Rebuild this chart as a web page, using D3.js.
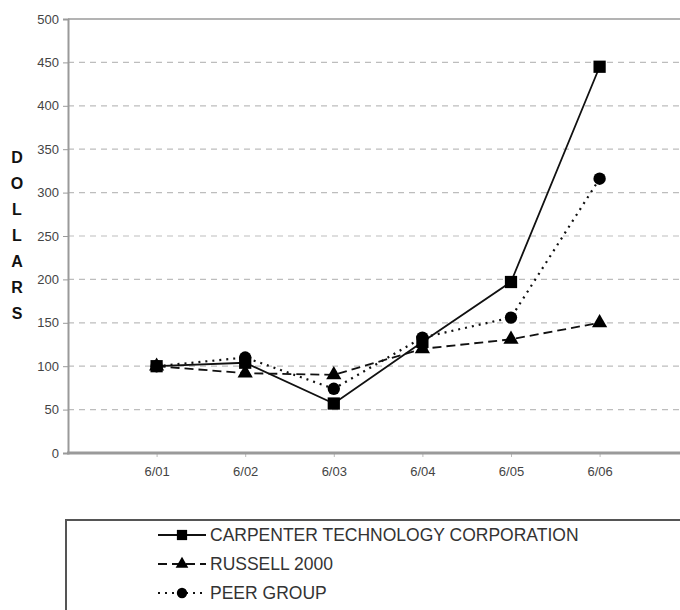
<!DOCTYPE html>
<html>
<head>
    <script type="text/javascript" src="https://cdn.jsdelivr.net/npm/d3@7/dist/d3.min.js"></script>
    <style>
        body { margin: 0; background: #fff; }
        text { font-family: "Liberation Sans", Arial, sans-serif; }
    </style>
</head>
<body>
    <div id="viz"></div>
    <script type="text/javascript">

    // data
    var periods = ["6/01", "6/02", "6/03", "6/04", "6/05", "6/06"];
    var carpenter = [100, 104, 57, 128, 197, 445];
    var russell = [100, 92, 90, 120, 131, 150];
    var peer = [100, 110, 74, 133, 156, 316];
    var yTicks = [0, 50, 100, 150, 200, 250, 300, 350, 400, 450, 500];
    var seriesNames = ["CARPENTER TECHNOLOGY CORPORATION", "RUSSELL 2000", "PEER GROUP"];
    var yLetters = ["D", "O", "L", "L", "A", "R", "S"];

    var W = 680, H = 610;
    var plotLeft = 68, plotTop = 19, plotBottom = 453;

    var svg = d3.select("#viz").append("svg")
        .attr("width", W)
        .attr("height", H);

    // one empty slot before and after the periods, plot runs off the right edge
    var x = d3.scalePoint()
        .domain(["_a"].concat(periods).concat(["_b"]))
        .range([plotLeft, plotLeft + 7 * 88.6]);

    var y = d3.scaleLinear()
        .domain([0, 500])
        .range([plotBottom, plotTop]);

    // grid lines
    svg.selectAll("line.grid")
        .data(yTicks.filter(function(d) { return d > 0 && d < 500; }))
        .enter().append("line")
        .attr("class", "grid")
        .attr("x1", plotLeft).attr("x2", W)
        .attr("y1", function(d) { return y(d); })
        .attr("y2", function(d) { return y(d); })
        .style("stroke", "#bdbdbd")
        .style("stroke-width", 1.2)
        .style("stroke-dasharray", "6,5");

    // top border
    svg.append("line")
        .attr("x1", plotLeft).attr("x2", W)
        .attr("y1", y(500)).attr("y2", y(500))
        .style("stroke", "#9a9a9a").style("stroke-width", 1.5);

    // y axis
    var yAxis = d3.axisLeft(y).tickValues(yTicks).tickSize(5).tickPadding(4);
    var gy = svg.append("g")
        .attr("transform", "translate(" + plotLeft + ",0)")
        .call(yAxis);
    gy.select(".domain").style("stroke", "#9a9a9a").style("stroke-width", 2);
    gy.selectAll(".tick line").style("stroke", "#9a9a9a");
    gy.selectAll("text").style("font-size", "13px").style("fill", "#444");

    // x axis
    var xAxis = d3.axisBottom(x).tickValues(periods).tickSize(4).tickPadding(10);
    var gx = svg.append("g")
        .attr("transform", "translate(0," + plotBottom + ")")
        .call(xAxis);
    gx.select(".domain").remove();
    gx.append("line")
        .attr("x1", plotLeft - 1).attr("x2", W)
        .style("stroke", "#9a9a9a").style("stroke-width", 3);
    gx.selectAll(".tick line").style("stroke", "#bbb");
    gx.selectAll("text").style("font-size", "13px").style("fill", "#444");

    // stacked y label
    svg.selectAll("text.ylab")
        .data(yLetters)
        .enter().append("text")
        .attr("class", "ylab")
        .attr("x", 17)
        .attr("y", function(d, i) { return 163 + i * 26; })
        .attr("text-anchor", "middle")
        .style("font-size", "16px")
        .style("font-weight", "bold")
        .style("fill", "#111")
        .text(function(d) { return d; });

    var series = [
        { name: seriesNames[0], values: carpenter, dash: null, sym: d3.symbolSquare, size: 150 },
        { name: seriesNames[1], values: russell, dash: "9,5", sym: d3.symbolTriangle, size: 100 },
        { name: seriesNames[2], values: peer, dash: "2,5", sym: d3.symbolCircle, size: 120 }
    ];

    var line = d3.line()
        .x(function(d, i) { return x(periods[i]); })
        .y(function(d) { return y(d); });

    series.forEach(function(s) {
        svg.append("path")
            .datum(s.values)
            .attr("d", line)
            .style("fill", "none")
            .style("stroke", "#111")
            .style("stroke-width", s.dash === "2,5" ? 2.2 : 1.8)
            .style("stroke-dasharray", s.dash);
        svg.selectAll(null)
            .data(s.values)
            .enter().append("path")
            .attr("transform", function(d, i) { return "translate(" + x(periods[i]) + "," + y(d) + ")"; })
            .attr("d", d3.symbol().type(s.sym).size(s.size))
            .style("fill", "#000");
    });

    // legend
    svg.append("rect")
        .attr("x", 66).attr("y", 520)
        .attr("width", W).attr("height", 120)
        .style("fill", "#fff")
        .style("stroke", "#555")
        .style("stroke-width", 2);

    series.forEach(function(s, i) {
        var ly = 535 + i * 29;
        svg.append("line")
            .attr("x1", 158).attr("x2", 206)
            .attr("y1", ly).attr("y2", ly)
            .style("stroke", "#111")
            .style("stroke-width", s.dash === "2,5" ? 2.2 : 1.8)
            .style("stroke-dasharray", s.dash);
        svg.append("path")
            .attr("transform", "translate(182," + ly + ")")
            .attr("d", d3.symbol().type(s.sym).size(s.size * 0.7))
            .style("fill", "#000");
        svg.append("text")
            .attr("x", 210).attr("y", ly + 6)
            .style("font-size", "17.5px")
            .style("fill", "#333")
            .text(s.name);
    });

    </script>
</body>
</html>
